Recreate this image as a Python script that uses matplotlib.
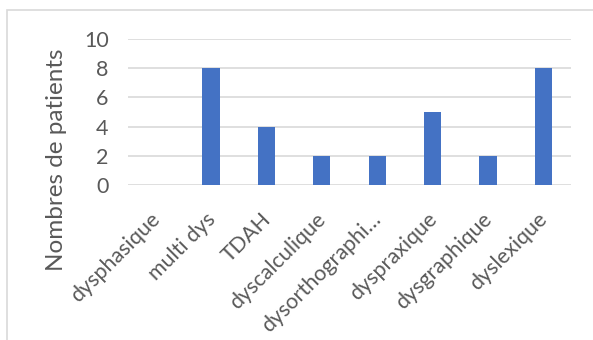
import matplotlib
import matplotlib.pyplot as plt
import matplotlib.patches as patches
import matplotlib.transforms as mtransforms

matplotlib.use('Agg')

categories = ['dysphasique', 'multi dys', 'TDAH', 'dyscalculique',
              'dysorthographi\u2026', 'dyspraxique', 'dysgraphique', 'dyslexique']
patients = [0, 8, 4, 2, 2, 5, 2, 8]
y_ticks = [0, 2, 4, 6, 8, 10]

plt.rcParams['font.family'] = ['Lato', 'DejaVu Sans']
text_color = '#595959'
grid_color = '#D9D9D9'
bar_color = '#4472C4'

W, H = 593, 340
fig = plt.figure(figsize=(W / 100, H / 100), dpi=100)

# outer chart border (runs off the right and bottom edges)
fig.patches.append(patches.Rectangle((7 / W, -0.1), 1.2, 1 - 10 / H + 0.1,
                                     transform=fig.transFigure, fill=False,
                                     edgecolor=grid_color, linewidth=1.2))

ax = fig.add_axes([128 / W, 1 - 185 / H, (571 - 128) / W, (185 - 39) / H])
x = range(len(categories))
ax.bar(x, patients, width=0.31, color=bar_color, zorder=3)

ax.set_xlim(-0.5, len(categories) - 0.5)
ax.set_ylim(0, 10)
ax.set_yticks(y_ticks)
ax.yaxis.grid(True, color=grid_color, linewidth=1.2, zorder=0)
for s in ax.spines.values():
    s.set_visible(False)
ax.tick_params(length=0, labelsize=15.5, colors=text_color)
ax.tick_params(axis='y', pad=14)
ax.tick_params(axis='x', pad=0, labelsize=15.5)

ax.set_xticks(list(x))
ax.set_xticklabels(categories, rotation=45, ha='right', va='top',
                   rotation_mode='anchor')
offset = mtransforms.ScaledTranslation(-6 / 100, -24 / 100, fig.dpi_scale_trans)
for lbl in ax.get_xticklabels():
    lbl.set_transform(lbl.get_transform() + offset)

fig.text(57 / W, 1 - 160 / H, 'Nombres de patients', rotation=90,
         ha='center', va='center', fontsize=17.5, color=text_color)

fig.savefig('out.png', dpi=100)
